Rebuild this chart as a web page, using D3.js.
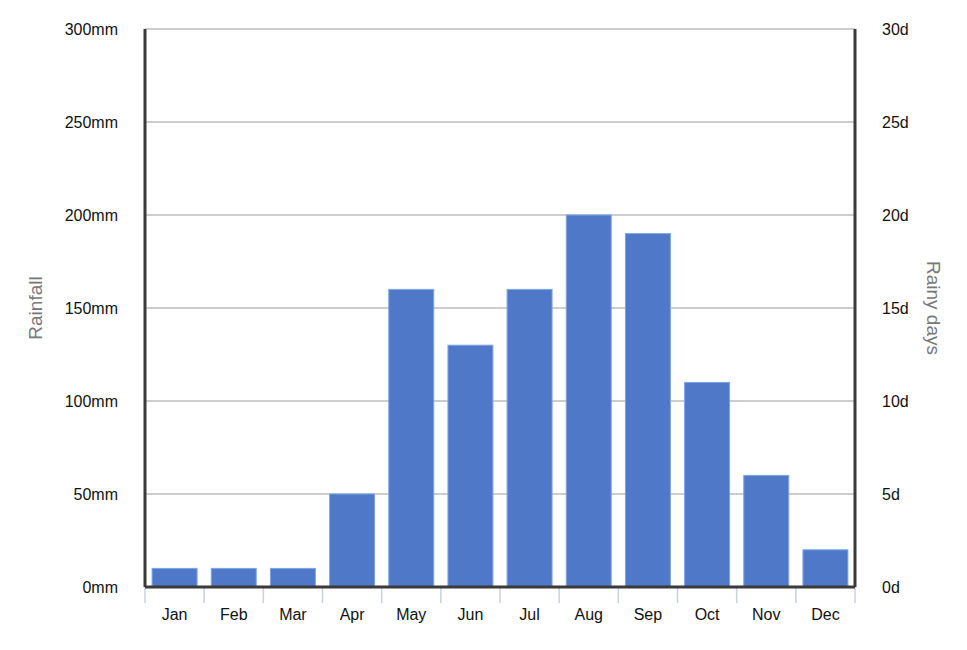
<!DOCTYPE html>
<html>
<head>
<meta charset="utf-8">
<script src="https://cdn.jsdelivr.net/npm/d3@7"></script>
<style>body{margin:0;background:#fff;font-family:Arial,"Liberation Sans",sans-serif;}</style>
</head>
<body>
<div id="wrapper"></div>
<script>
const months = ["Jan","Feb","Mar","Apr","May","Jun","Jul","Aug","Sep","Oct","Nov","Dec"];
const rainfall = [10,10,10,50,160,130,160,200,190,110,60,20];
const leftTicks = [0,50,100,150,200,250,300];
const rightTicks = [0,5,10,15,20,25,30];

const dimensions = {width: 967, height: 650, margin: {top: 29, right: 112, bottom: 63, left: 145}};
dimensions.boundedWidth = dimensions.width - dimensions.margin.left - dimensions.margin.right;
dimensions.boundedHeight = dimensions.height - dimensions.margin.top - dimensions.margin.bottom;

const svg = d3.select("#wrapper").append("svg")
  .attr("width", dimensions.width).attr("height", dimensions.height);
const bounds = svg.append("g")
  .attr("transform", `translate(${dimensions.margin.left},${dimensions.margin.top})`);

const xScale = d3.scaleBand().domain(months).range([0, dimensions.boundedWidth]).paddingInner(0.24).paddingOuter(0.12);
const yScale = d3.scaleLinear().domain([0, 300]).range([dimensions.boundedHeight, 0]);
const yScaleRight = d3.scaleLinear().domain([0, 30]).range([dimensions.boundedHeight, 0]);

// gridlines
bounds.append("g").selectAll("line").data(leftTicks.slice(1)).join("line")
  .attr("x1", 0).attr("x2", dimensions.boundedWidth)
  .attr("y1", d => yScale(d)).attr("y2", d => yScale(d))
  .attr("stroke", "#bdbdbd").attr("stroke-width", 1.5);

// bars
bounds.append("g").selectAll("rect").data(rainfall).join("rect")
  .attr("x", (d, i) => xScale(months[i]))
  .attr("width", xScale.bandwidth())
  .attr("y", d => yScale(d))
  .attr("height", d => dimensions.boundedHeight - yScale(d))
  .attr("fill", "#4f79c8").attr("stroke", "#7aa6e6").attr("stroke-width", 1);

// x ticks at band boundaries
const step = dimensions.boundedWidth / months.length;
bounds.append("g").selectAll("line").data(d3.range(months.length + 1)).join("line")
  .attr("x1", i => i * step).attr("x2", i => i * step)
  .attr("y1", dimensions.boundedHeight).attr("y2", dimensions.boundedHeight + 16)
  .attr("stroke", "#c8d2e0").attr("stroke-width", 1.5);

bounds.append("g").selectAll("text").data(months).join("text")
  .attr("x", d => xScale(d) + xScale.bandwidth() / 2)
  .attr("y", dimensions.boundedHeight + 33)
  .attr("text-anchor", "middle").attr("font-size", 16).attr("fill", "#111").text(d => d);

// y labels
bounds.append("g").selectAll("text").data(leftTicks).join("text")
  .attr("x", -27).attr("y", d => yScale(d) + 6)
  .attr("text-anchor", "end").attr("font-size", 16).attr("fill", "#111").text(d => d + "mm");
bounds.append("g").selectAll("text").data(rightTicks).join("text")
  .attr("x", dimensions.boundedWidth + 27).attr("y", d => yScaleRight(d) + 6)
  .attr("text-anchor", "start").attr("font-size", 16).attr("fill", "#111").text(d => d + "d");

// axis lines
bounds.append("line").attr("x1", 0).attr("x2", 0).attr("y1", 0).attr("y2", dimensions.boundedHeight)
  .attr("stroke", "#3a3a3a").attr("stroke-width", 3);
bounds.append("line").attr("x1", dimensions.boundedWidth).attr("x2", dimensions.boundedWidth)
  .attr("y1", 0).attr("y2", dimensions.boundedHeight).attr("stroke", "#3a3a3a").attr("stroke-width", 3);
bounds.append("line").attr("x1", 0).attr("x2", dimensions.boundedWidth)
  .attr("y1", dimensions.boundedHeight).attr("y2", dimensions.boundedHeight)
  .attr("stroke", "#3a3a3a").attr("stroke-width", 3);

// titles
svg.append("text").attr("transform", "translate(42,308) rotate(-90)")
  .attr("text-anchor", "middle").attr("font-size", 19).attr("fill", "#777").text("Rainfall");
svg.append("text").attr("transform", "translate(927,308) rotate(90)")
  .attr("text-anchor", "middle").attr("font-size", 19).attr("fill", "#777").text("Rainy days");
</script>
</body>
</html>
